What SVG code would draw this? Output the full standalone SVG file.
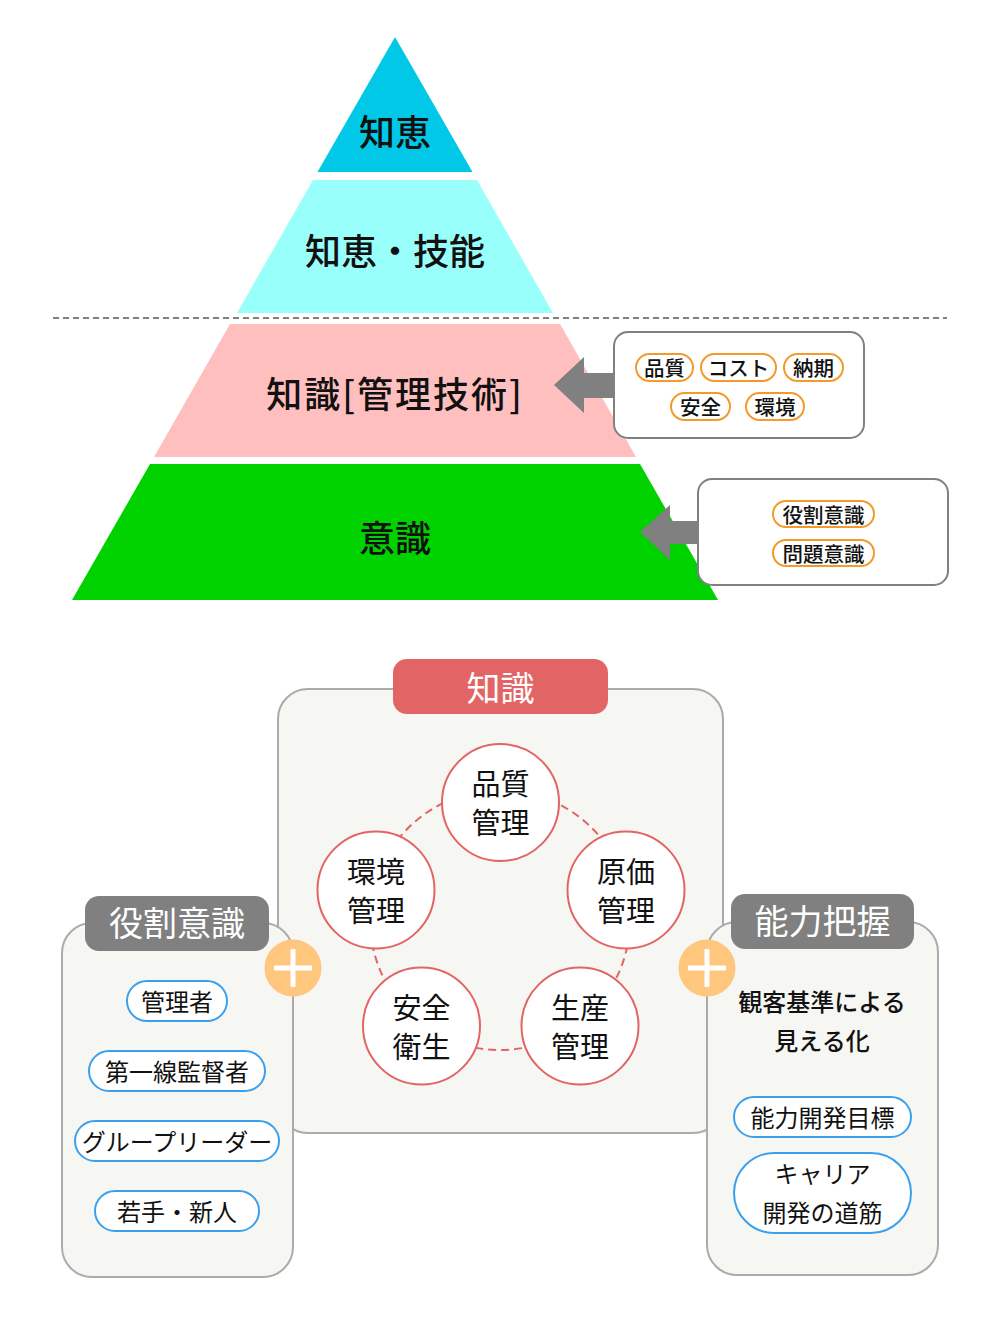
<svg xmlns="http://www.w3.org/2000/svg" width="1000" height="1335" viewBox="0 0 1000 1335">
<style>
text{font-family:"Noto Sans CJK JP","Noto Sans",sans-serif;text-anchor:middle;dominant-baseline:central;fill:#111}
.pyr{font-size:36px;font-weight:500}
.arrow{fill:#808080}
.gbox{fill:#fff;stroke:#808080;stroke-width:2}
.opill{fill:#fff;stroke:#F39A2A;stroke-width:2}
.otxt{font-size:20.5px;font-weight:500}
.panel{fill:#F6F6F2;stroke:#ABABAB;stroke-width:2}
.title{font-size:34px;fill:#fff}
.circ{fill:#fff;stroke:#E36464;stroke-width:2}
.ctxt{font-size:29px}
.bpill{fill:#fff;stroke:#3AA0EE;stroke-width:2}
.btxt{font-size:24px}
.plus circle{fill:#FFC67E}
.plus path{stroke:#fff;stroke-width:5;fill:none}
</style>

<g id="pyramid">
  <g id="tier-chie"><polygon points="395,37 472.5,172 317.5,172" fill="#00C8E6"/><text class="pyr" x="395" y="130">知恵</text></g>
  <g id="tier-chie-ginou"><polygon points="313,180 477,180 553,313 237,313" fill="#99FFFA"/><text class="pyr" x="395" y="249">知恵・技能</text></g>
  <g id="tier-chishiki"><polygon points="230,324 560,324 636,457 154,457" fill="#FFBFBF"/><text class="pyr" x="395" y="392" letter-spacing="2">知識[管理技術]</text></g>
  <g id="tier-ishiki"><polygon points="150,464 640,464 718,600 72,600" fill="#00D200"/><text class="pyr" x="395" y="536">意識</text></g>
</g>
<line x1="53" y1="318" x2="947" y2="318" stroke="#808080" stroke-width="2" stroke-dasharray="6 4"/>

<g id="box-chishiki-items">
  <rect class="gbox" x="614" y="332" width="250" height="106" rx="14"/>
  <rect class="opill" x="636" y="354" width="57" height="27" rx="13.5"/><text class="otxt" x="664.5" y="367">品質</text>
  <rect class="opill" x="701" y="354" width="75" height="27" rx="13.5"/><text class="otxt" x="738.5" y="367">コスト</text>
  <rect class="opill" x="784" y="354" width="59" height="27" rx="13.5"/><text class="otxt" x="813.5" y="367">納期</text>
  <rect class="opill" x="671" y="393" width="59" height="27" rx="13.5"/><text class="otxt" x="700.5" y="406">安全</text>
  <rect class="opill" x="746" y="393" width="58" height="27" rx="13.5"/><text class="otxt" x="775" y="406">環境</text>
</g>

<g id="box-ishiki-items">
  <rect class="gbox" x="698" y="479" width="250" height="106" rx="14"/>
  <rect class="opill" x="773" y="501" width="101" height="26" rx="13"/><text class="otxt" x="823.5" y="513.5">役割意識</text>
  <rect class="opill" x="773" y="540" width="101" height="26" rx="13"/><text class="otxt" x="823.5" y="552.5">問題意識</text>
</g>

<g id="panel-chishiki">
  <rect class="panel" x="278" y="689" width="445" height="444" rx="30"/>
  <rect x="393" y="659" width="215" height="55" rx="14" fill="#E36464"/>
  <text class="title" x="500.5" y="686">知識</text>
</g>

<g id="connectors">
  <polygon class="arrow" points="554,385 584,357 584,373 614,373 614,398 584,398 584,413"/>
  <polygon class="arrow" points="640,532 670,505 670,521 698,521 698,544 670,544 670,560"/>
  <circle cx="500" cy="920" r="130" fill="none" stroke="#E36464" stroke-width="2" stroke-dasharray="8 5"/>
</g>

<g id="node-hinshitsu"><circle class="circ" cx="500.5" cy="802.5" r="58.5"/><text class="ctxt" x="500.5" y="782">品質</text><text class="ctxt" x="500.5" y="821">管理</text></g>
<g id="node-genka"><circle class="circ" cx="626" cy="890" r="58.5"/><text class="ctxt" x="626" y="870">原価</text><text class="ctxt" x="626" y="909">管理</text></g>
<g id="node-seisan"><circle class="circ" cx="580" cy="1026" r="58.5"/><text class="ctxt" x="580" y="1006">生産</text><text class="ctxt" x="580" y="1045">管理</text></g>
<g id="node-anzen"><circle class="circ" cx="421.5" cy="1026" r="58.5"/><text class="ctxt" x="421.5" y="1006">安全</text><text class="ctxt" x="421.5" y="1045">衛生</text></g>
<g id="node-kankyo"><circle class="circ" cx="376" cy="890" r="58.5"/><text class="ctxt" x="376" y="870">環境</text><text class="ctxt" x="376" y="909">管理</text></g>

<g id="panel-yakuwari">
  <rect class="panel" x="62" y="923" width="231" height="354" rx="30"/>
  <rect x="85" y="896" width="184" height="55" rx="14" fill="#808080"/>
  <text class="title" x="177" y="921">役割意識</text>
  <rect class="bpill" x="127" y="981" width="100" height="40" rx="20"/><text class="btxt" x="177" y="1000">管理者</text>
  <rect class="bpill" x="89" y="1051" width="176" height="40" rx="20"/><text class="btxt" x="177" y="1070">第一線監督者</text>
  <rect class="bpill" x="75" y="1121" width="204" height="40" rx="20"/><text class="btxt" x="177" y="1140">グループリーダー</text>
  <rect class="bpill" x="95" y="1191" width="164" height="40" rx="20"/><text class="btxt" x="177" y="1210">若手・新人</text>
</g>
<g id="plus-left" class="plus"><circle cx="293" cy="968" r="28.5"/><path d="M274,968H312M293,949V987"/></g>

<g id="panel-nouryoku">
  <rect class="panel" x="707" y="922" width="231" height="353" rx="30"/>
  <rect x="731" y="894" width="183" height="55" rx="14" fill="#808080"/>
  <text class="title" x="822.5" y="919">能力把握</text>
  <text class="btxt" x="822" y="1000" style="font-weight:500">観客基準による</text>
  <text class="btxt" x="822" y="1039" style="font-weight:500">見える化</text>
  <rect class="bpill" x="734" y="1097" width="177" height="40" rx="20"/><text class="btxt" x="822.5" y="1116">能力開発目標</text>
  <rect class="bpill" x="734" y="1153" width="177" height="80" rx="40"/><text class="btxt" x="822.5" y="1172">キャリア</text><text class="btxt" x="822.5" y="1211">開発の道筋</text>
</g>
<g id="plus-right" class="plus"><circle cx="707" cy="968" r="28.5"/><path d="M688,968H726M707,949V987"/></g>
</svg>
